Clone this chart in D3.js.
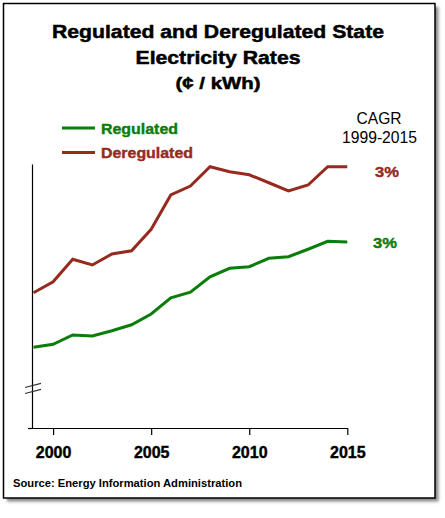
<!DOCTYPE html>
<html><head><meta charset="utf-8">
<script src="https://cdn.jsdelivr.net/npm/d3@7"></script>
<style>
html,body{margin:0;padding:0;background:#fff;}
svg{display:block;font-family:"Liberation Sans",Arial,sans-serif;}
</style></head>
<body>
<script>
// ---- data ----
const years = [1999,2000,2001,2002,2003,2004,2005,2006,2007,2008,2009,2010,2011,2012,2013,2014,2015];
const regulated   = [7.23,7.35,7.72,7.68,7.89,8.13,8.56,9.21,9.43,10.05,10.39,10.45,10.79,10.85,11.15,11.47,11.44];
const deregulated = [9.41,9.85,10.75,10.52,10.96,11.09,11.95,13.32,13.68,14.45,14.25,14.13,13.81,13.48,13.72,14.45,14.45];
const xTicks = [2000,2005,2010,2015];
const seriesNames = ["Regulated","Deregulated"];
const cagrLabels = ["3%","3%"];
const titleLines = ["Regulated and Deregulated State","Electricity  Rates","(¢ / kWh)"];
const sourceText = "Source: Energy Information Administration";

const W=445,H=518;
const green="#0b7d0b", red="#962a1f";

const svg=d3.select("body").append("svg").attr("width",W).attr("height",H);
const defs=svg.append("defs");
const f=defs.append("filter").attr("id","sh").attr("x","-5%").attr("y","-5%").attr("width","110%").attr("height","110%");
f.append("feGaussianBlur").attr("stdDeviation",1.5);

// frame with shadow
svg.append("rect").attr("x",7).attr("y",7).attr("width",431.5).attr("height",494.5).attr("fill","#888").attr("filter","url(#sh)");
svg.append("rect").attr("x",3.5).attr("y",3.5).attr("width",431.5).attr("height",494.5).attr("fill","#fff").attr("stroke","#000").attr("stroke-width",1.5);

const x=d3.scaleLinear().domain([1999,2015]).range([33.5,347.3]);
const y=d3.scaleLinear().domain([4,14.56]).range([428,164]);

// title
const tl=[{t:titleLines[0],y:38,w:332,s:19},{t:titleLines[1],y:63.5,w:165,s:19},{t:titleLines[2],y:89,w:85,s:17}];
tl.forEach(d=>{
  svg.append("text").attr("x",218).attr("y",d.y).attr("text-anchor","middle")
    .attr("font-size",d.s).attr("font-weight","bold").attr("stroke","#000").attr("stroke-width",0.5)
    .attr("textLength",d.w).attr("lengthAdjust","spacingAndGlyphs").text(d.t);
});

// axes
const xAxis=d3.axisBottom(x).tickValues(xTicks).tickFormat(d3.format("d")).tickSizeInner(7).tickSizeOuter(0).tickPadding(12);
const gx=svg.append("g").attr("transform","translate(0,428)").call(xAxis);
gx.select(".domain").attr("d","M32,0.5H347.3").attr("stroke","#000").attr("stroke-width",1.2);
gx.selectAll(".tick line").attr("stroke","#000").attr("stroke-width",1.2);
gx.selectAll(".tick text").attr("font-size",16).attr("font-weight","bold").attr("fill","#000")
  .attr("stroke","#000").attr("stroke-width",0.4).attr("font-family","'Liberation Sans',Arial,sans-serif");

const yAxis=d3.axisLeft(y).tickValues([4]).tickFormat("").tickSizeInner(4).tickSizeOuter(0);
const gy=svg.append("g").attr("transform","translate(32,0)").call(yAxis);
gy.select(".domain").attr("stroke","#000").attr("stroke-width",1.2);
gy.selectAll(".tick line").attr("stroke","#000").attr("stroke-width",1.2);

// axis break marks
[0,6].forEach(o=>{
  svg.append("line").attr("x1",25).attr("y1",387.5+o).attr("x2",41).attr("y2",383.3+o).attr("stroke","#333").attr("stroke-width",1.2);
});

// lines
const line=d3.line().x((d,i)=>x(years[i])).y(d=>y(d));
svg.append("path").datum(deregulated).attr("d",line).attr("fill","none").attr("stroke",red).attr("stroke-width",3);
svg.append("path").datum(regulated).attr("d",line).attr("fill","none").attr("stroke",green).attr("stroke-width",3);

// legend
const leg=[{n:seriesNames[0],c:green,y:128,w:77},{n:seriesNames[1],c:red,y:152.5,w:92}];
leg.forEach(d=>{
  svg.append("line").attr("x1",62).attr("x2",95).attr("y1",d.y).attr("y2",d.y).attr("stroke",d.c).attr("stroke-width",3);
  svg.append("text").attr("x",101).attr("y",d.y+5.5).attr("font-size",15).attr("font-weight","bold").attr("fill",d.c)
    .attr("stroke",d.c).attr("stroke-width",0.4)
    .attr("textLength",d.w).attr("lengthAdjust","spacingAndGlyphs").text(d.n);
});

// CAGR header
svg.append("text").attr("x",379).attr("y",124).attr("text-anchor","middle").attr("font-size",16).attr("textLength",45).attr("lengthAdjust","spacingAndGlyphs").text("CAGR");
svg.append("text").attr("x",379.5).attr("y",143).attr("text-anchor","middle").attr("font-size",16).attr("textLength",75).attr("lengthAdjust","spacingAndGlyphs").text("1999-2015");

// CAGR values
svg.append("text").attr("x",375).attr("y",y(deregulated[16])+10).attr("font-size",15).attr("font-weight","bold").attr("fill",red).attr("stroke",red).attr("stroke-width",0.4).attr("textLength",24).attr("lengthAdjust","spacingAndGlyphs").text(cagrLabels[1]);
svg.append("text").attr("x",373).attr("y",y(regulated[16])+5.5).attr("font-size",15).attr("font-weight","bold").attr("fill",green).attr("stroke",green).attr("stroke-width",0.4).attr("textLength",24).attr("lengthAdjust","spacingAndGlyphs").text(cagrLabels[0]);

// source
svg.append("text").attr("x",13).attr("y",486.5).attr("font-size",11).attr("font-weight","bold").attr("textLength",229).attr("lengthAdjust","spacingAndGlyphs").text(sourceText);
</script>
</body></html>
